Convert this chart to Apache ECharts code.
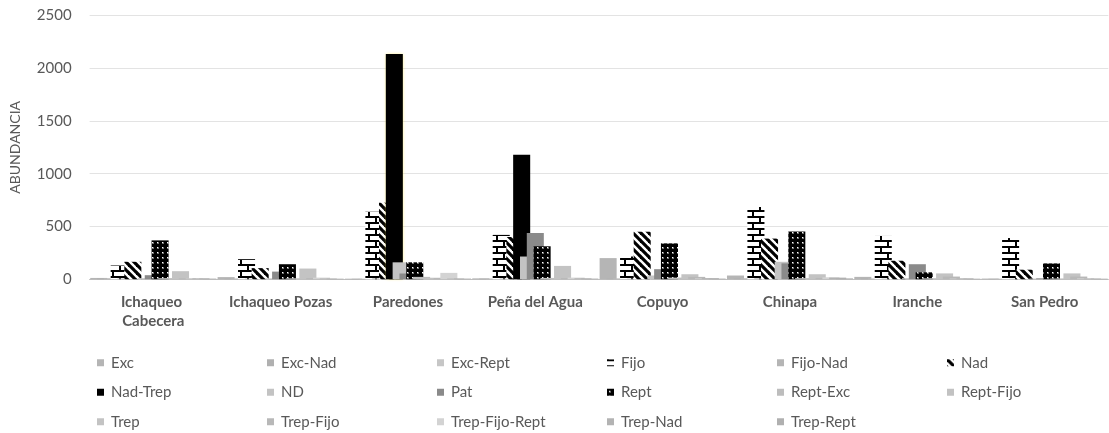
<!DOCTYPE html>
<html>
<head>
<meta charset="utf-8">
<title>Abundancia por sitio</title>
<script src="https://cdn.jsdelivr.net/npm/echarts@6/dist/echarts.min.js"></script>
<style>
  html, body { margin: 0; padding: 0; background: #ffffff; }
  #chart { width: 1109px; height: 433px; }
</style>
</head>
<body>
<div id="chart"></div>
<script>
// Sampling sites along the x axis
const categories = ['Ichaqueo Cabecera', 'Ichaqueo Pozas', 'Paredones', 'Peña del Agua', 'Copuyo', 'Chinapa', 'Iranche', 'San Pedro'];

// Abundance per category (one value per site, same order as categories)
const exc          = [12, 20, 5, 8, 200, 35, 22, 6];
const excNad       = [8, 6, 4, 5, 6, 8, 5, 4];
const excRept      = [5, 4, 3, 4, 5, 6, 4, 3];
const fijo         = [130, 190, 640, 420, 215, 685, 410, 390];
const fijoNad      = [6, 5, 8, 6, 5, 8, 5, 4];
const nad          = [165, 105, 725, 400, 450, 385, 175, 90];
const nadTrep      = [0, 0, 2135, 1180, 0, 0, 0, 0];
const nd           = [10, 8, 160, 215, 35, 165, 10, 6];
const pat          = [38, 72, 54, 438, 95, 150, 142, 8];
const rept         = [368, 142, 160, 312, 340, 452, 65, 150];
const reptExc      = [10, 8, 22, 12, 15, 10, 8, 6];
const reptFijo     = [6, 5, 10, 8, 8, 6, 6, 4];
const trep         = [76, 101, 14, 126, 47, 47, 55, 55];
const trepFijo     = [8, 10, 10, 10, 22, 12, 25, 25];
const trepFijoRept = [6, 15, 60, 15, 8, 18, 6, 8];
const trepNad      = [8, 6, 6, 8, 10, 15, 8, 6];
const trepRept     = [6, 5, 6, 6, 6, 8, 5, 5];

const yTicks = { min: 0, max: 2500, interval: 500 };

// --- fill patterns -------------------------------------------------------
function makeTile(w, h, draw) {
  const c = document.createElement('canvas');
  c.width = w; c.height = h;
  const ctx = c.getContext('2d');
  draw(ctx, w, h);
  return { image: c, repeat: 'repeat' };
}

// horizontal brick
const brick = makeTile(16, 12, (ctx, w, h) => {
  ctx.fillStyle = '#ffffff';
  ctx.fillRect(0, 0, w, h);
  ctx.fillStyle = '#000000';
  ctx.fillRect(0, 0, w, 2);
  ctx.fillRect(7, 0, 2, 6);
  ctx.fillRect(0, 6, w, 2);
  ctx.fillRect(0, 6, 2, 6);
});

// wide downward diagonal stripes
const stripes = makeTile(8, 8, (ctx, w, h) => {
  ctx.fillStyle = '#ffffff';
  ctx.fillRect(0, 0, w, h);
  ctx.strokeStyle = '#000000';
  ctx.lineWidth = 3.2;
  for (const k of [-8, 0, 8]) {
    ctx.beginPath();
    ctx.moveTo(k - 1, -1);
    ctx.lineTo(k + w + 1, h + 1);
    ctx.stroke();
  }
});

// black with small white dots
const dots = makeTile(5, 5, (ctx, w, h) => {
  ctx.fillStyle = '#000000';
  ctx.fillRect(0, 0, w, h);
  ctx.fillStyle = '#707070';
  ctx.fillRect(2, 2, 2, 2);
  ctx.fillStyle = '#ffffff';
  ctx.fillRect(2, 2, 1, 1);
});

const seriesDefs = [
  ['Exc', exc, '#b5b5b5'],
  ['Exc-Nad', excNad, '#b0b0b0'],
  ['Exc-Rept', excRept, '#c6c6c6'],
  ['Fijo', fijo, brick],
  ['Fijo-Nad', fijoNad, '#b5b5b5'],
  ['Nad', nad, stripes],
  ['Nad-Trep', nadTrep, '#000000'],
  ['ND', nd, '#c3c3c3'],
  ['Pat', pat, '#8a8a8a'],
  ['Rept', rept, dots],
  ['Rept-Exc', reptExc, '#bdbdbd'],
  ['Rept-Fijo', reptFijo, '#c2c2c2'],
  ['Trep', trep, '#c3c3c3'],
  ['Trep-Fijo', trepFijo, '#b8b8b8'],
  ['Trep-Fijo-Rept', trepFijoRept, '#d3d3d3'],
  ['Trep-Nad', trepNad, '#b3b3b3'],
  ['Trep-Rept', trepRept, '#b0b0b0']
];

const textColor = '#595959';
const font = 'Lato';

const series = seriesDefs.map(([name, values, color]) => ({
  name,
  type: 'bar',
  data: values.map((v, i) => {
    // the tallest column carries a soft highlight glow
    if (name === 'Nad-Trep' && i === 2) {
      return { value: v, itemStyle: { shadowColor: 'rgba(255, 235, 80, 0.9)', shadowBlur: 3 } };
    }
    return v;
  }),
  barGap: '-60%',
  barCategoryGap: '1%',
  itemStyle: { color },
  emphasis: { disabled: true },
  animation: false
}));

const chart = echarts.init(document.getElementById('chart'), null, { renderer: 'canvas' });
chart.setOption({
  backgroundColor: '#ffffff',
  animation: false,
  textStyle: { fontFamily: font },
  grid: { left: 89.6, top: 15.5, width: 1029.6, height: 263.7, containLabel: false },
  xAxis: {
    type: 'category',
    data: categories,
    axisLine: { lineStyle: { color: '#bfbfbf', width: 1 } },
    axisTick: { show: false },
    axisLabel: {
      interval: 0,
      margin: 13,
      color: textColor,
      fontFamily: font,
      fontWeight: 'bold',
      fontSize: 15,
      lineHeight: 19,
      width: 124,
      overflow: 'break'
    }
  },
  yAxis: {
    type: 'value',
    min: yTicks.min,
    max: yTicks.max,
    interval: yTicks.interval,
    name: 'ABUNDANCIA',
    nameLocation: 'middle',
    nameRotate: 90,
    nameGap: 67,
    nameTextStyle: { color: textColor, fontFamily: font, fontSize: 14 },
    axisLine: { show: false },
    axisTick: { show: false },
    axisLabel: {
      color: textColor,
      fontFamily: font,
      fontSize: 15,
      margin: 18,
      formatter: v => String(v)
    },
    splitLine: { lineStyle: { color: '#e3e3e3', width: 1 } }
  },
  legend: {
    left: 97,
    top: 353,
    width: 1012,
    padding: 0,
    orient: 'horizontal',
    icon: 'rect',
    itemWidth: 7,
    itemHeight: 7,
    itemGap: 10,
    selectedMode: false,
    textStyle: { color: textColor, fontFamily: font, fontSize: 15, width: 146, lineHeight: 19.5, padding: [0, 0, 0, 2] },
    data: seriesDefs.map(d => d[0])
  },
  series
});
</script>
</body>
</html>
